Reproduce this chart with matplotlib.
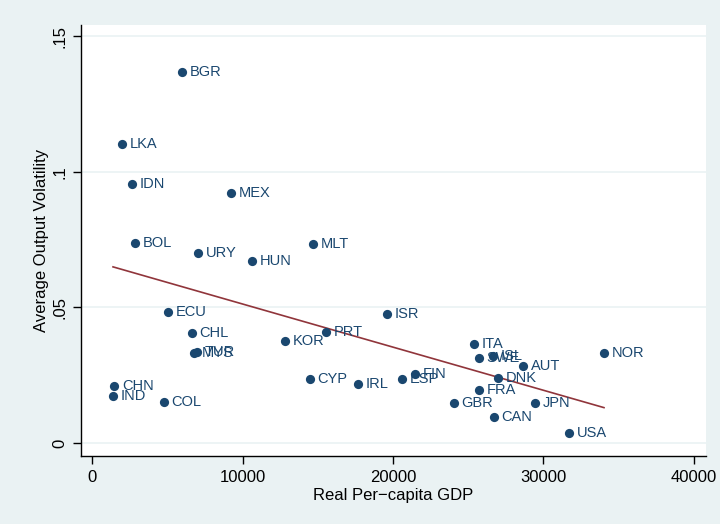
import numpy as np
import matplotlib.pyplot as plt

plt.rcParams['font.family'] = ['Liberation Sans', 'DejaVu Sans']

countries = ["BGR", "LKA", "IDN", "MEX", "BOL", "URY", "HUN", "MLT", "ECU", "CHL",
             "MYS", "TUR", "ISR", "PRT", "KOR", "CYP", "IRL", "ESP", "FIN", "ITA",
             "SWE", "ISL", "AUT", "DNK", "FRA", "NOR", "GBR", "JPN", "CAN", "USA",
             "CHN", "IND", "COL"]
gdp = [5940, 1990, 2610, 9220, 2830, 7050, 10640, 14700, 5030, 6610,
       6780, 6940, 19620, 15520, 12830, 14460, 17670, 20580, 21440, 25370,
       25720, 26680, 28670, 26970, 25700, 34040, 24060, 29450, 26700, 31730,
       1460, 1370, 4760]
volatility = [0.1370, 0.1102, 0.0955, 0.0921, 0.0737, 0.0702, 0.0673, 0.0733, 0.0485, 0.0405,
              0.0331, 0.0335, 0.0476, 0.0411, 0.0378, 0.0235, 0.0219, 0.0237, 0.0255, 0.0365,
              0.0312, 0.0322, 0.0284, 0.0241, 0.0194, 0.0333, 0.0146, 0.0146, 0.0096, 0.0038,
              0.0210, 0.0173, 0.0150]

yticks = [0, 0.05, 0.1, 0.15]
yticklabels = ["0", ".05", ".1", ".15"]
xticks = [0, 10000, 20000, 30000, 40000]

navy = "#1a476f"
maroon = "#90353b"
bg = "#eaf2f3"

fig = plt.figure(figsize=(7.2, 5.24), dpi=100, facecolor=bg)
ax = fig.add_axes([0.1125, 0.1298, 0.8681, 0.8225])
ax.set_facecolor("white")

for y in yticks:
    ax.axhline(y, color=bg, lw=1.2, zorder=0)

ax.scatter(gdp, volatility, s=44, color=navy, zorder=3, linewidths=0)
for c, x, y in zip(countries, gdp, volatility):
    ax.annotate(c, (x, y), xytext=(5.5, 0), textcoords="offset points",
                va="center", ha="left", fontsize=10.5, color=navy)

# linear fit over the data range
b, a = np.polyfit(gdp, volatility, 1)
xs = np.array([min(gdp), max(gdp)])
ax.plot(xs, a + b * xs, color=maroon, lw=1.2, zorder=2)

ax.set_xlim(-760, 40830)
ax.set_ylim(-0.0048, 0.1542)
ax.set_xticks(xticks)
ax.set_xticklabels([str(t) for t in xticks])
ax.set_yticks(yticks)
ax.set_yticklabels(yticklabels, rotation=90, va="center")

for s in ["top", "right"]:
    ax.spines[s].set_visible(False)
for s in ["left", "bottom"]:
    ax.spines[s].set_linewidth(1.0)
ax.tick_params(direction="out", length=6, width=1, labelsize=12, pad=4)

ax.set_xlabel("Real Per\u2212capita GDP", fontsize=12, labelpad=2)
ax.set_ylabel("Average Output Volatility", fontsize=12, labelpad=2)

fig.savefig("out.png", dpi=100, facecolor=bg)
